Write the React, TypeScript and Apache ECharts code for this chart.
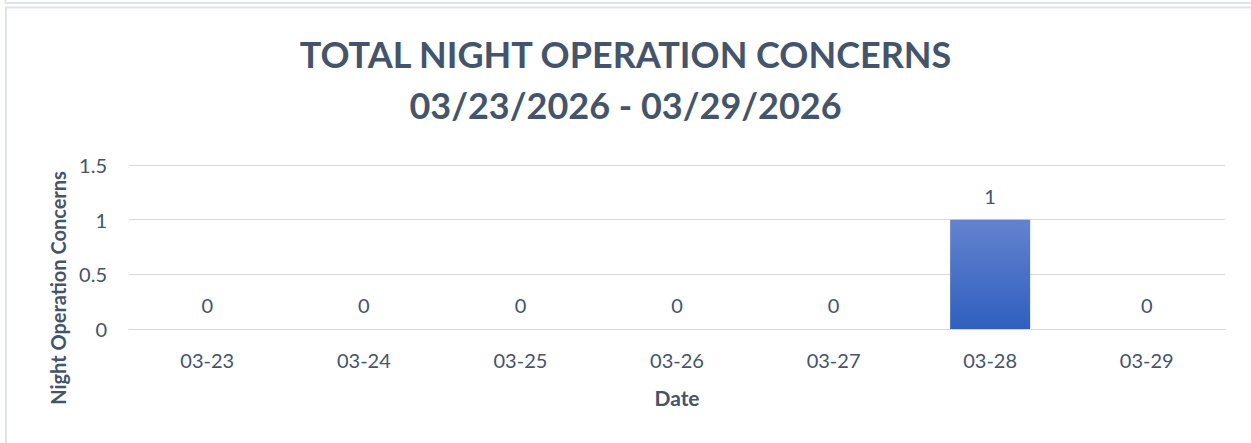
import React, { useEffect, useRef } from "react";
import * as echarts from "echarts";

const categories = ["03-23", "03-24", "03-25", "03-26", "03-27", "03-28", "03-29"];
const concerns = [0, 0, 0, 0, 0, 1, 0];
const titleLines = ["TOTAL NIGHT OPERATION CONCERNS", "03/23/2026 - 03/29/2026"];

const TEXT = "#44546a";
const FONT = "Lato, 'Open Sans', sans-serif";

export default function App() {
  const ref = useRef<HTMLDivElement>(null);
  useEffect(() => {
    if (!ref.current) return;
    const chart = echarts.init(ref.current, undefined, { renderer: "svg" });
    chart.setOption({
      animation: false,
      backgroundColor: "#ffffff",
      textStyle: { fontFamily: FONT, color: TEXT },
      title: {
        text: titleLines.join("\n"),
        left: "center",
        top: 23,
        textStyle: {
          fontFamily: FONT,
          fontSize: 36,
          fontWeight: "bold",
          color: TEXT,
          lineHeight: 51,
        },
      },
      graphic: [
        { type: "line", shape: { x1: 5, y1: 3, x2: 1251, y2: 3 }, style: { stroke: "#dfe4ea", lineWidth: 2 } },
        { type: "line", shape: { x1: 5.5, y1: 0, x2: 5.5, y2: 3 }, style: { stroke: "#dfe4ea", lineWidth: 2 } },
        { type: "line", shape: { x1: 5, y1: 7.5, x2: 1251, y2: 7.5 }, style: { stroke: "#dfe4ea", lineWidth: 2 } },
        { type: "line", shape: { x1: 6, y1: 7, x2: 6, y2: 443 }, style: { stroke: "#dfe4ea", lineWidth: 2 } },
      ],
      grid: { left: 129, right: 26, top: 165, bottom: 114 },
      xAxis: {
        type: "category",
        data: categories,
        name: "Date",
        nameLocation: "middle",
        nameGap: 58,
        nameTextStyle: { fontFamily: FONT, fontSize: 21, fontWeight: "bold", color: TEXT },
        axisLine: { show: true, lineStyle: { color: "#d9d9d9", width: 1 } },
        axisTick: { show: false },
        axisLabel: { fontFamily: FONT, fontSize: 20, color: TEXT, margin: 21 },
      },
      yAxis: {
        type: "value",
        min: 0,
        max: 1.5,
        interval: 0.5,
        name: "Night Operation Concerns",
        nameLocation: "middle",
        nameGap: 61,
        nameRotate: 90,
        nameTextStyle: {
          fontFamily: FONT,
          fontSize: 20,
          fontWeight: "bold",
          color: TEXT,
          padding: [0, 82, 0, 0],
        },
        axisLine: { show: false },
        axisTick: { show: false },
        splitLine: { lineStyle: { color: "#d9d9d9", width: 1 } },
        axisLabel: { fontFamily: FONT, fontSize: 20, color: TEXT, margin: 22 },
      },
      series: [
        {
          type: "bar",
          data: concerns,
          barWidth: 80,
          itemStyle: {
            color: new echarts.graphic.LinearGradient(0, 0, 0, 1, [
              { offset: 0, color: "#6383cf" },
              { offset: 1, color: "#305fbf" },
            ]),
          },
          label: {
            show: true,
            position: "top",
            distance: 14,
            fontFamily: FONT,
            fontSize: 20,
            color: TEXT,
          },
        },
      ],
    });
    return () => chart.dispose();
  }, []);
  return (
    <div
      ref={ref}
      style={{ position: "fixed", left: 0, top: 0, width: 1251, height: 443 }}
    />
  );
}
